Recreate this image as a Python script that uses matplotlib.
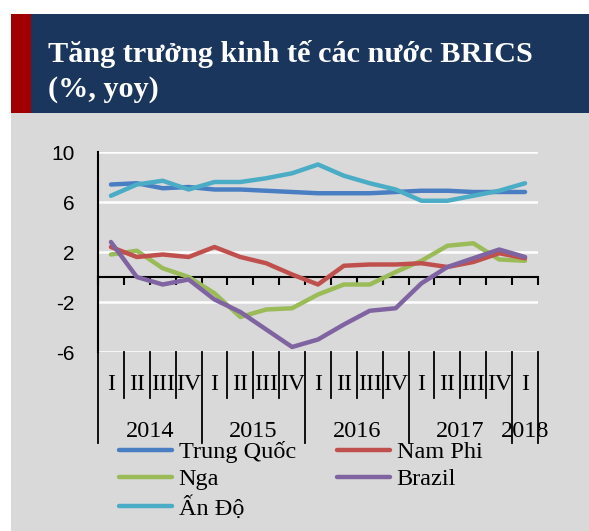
import numpy as np
import matplotlib.pyplot as plt
from matplotlib.patches import Rectangle
from matplotlib.lines import Line2D

# Du lieu tang truong GDP (%, yoy), 2014 Q1 - 2018 Q1
quarters = ["I", "II", "III", "IV"] * 4 + ["I"]
years = ["2014", "2015", "2016", "2017", "2018"]
year_sizes = [4, 4, 4, 4, 1]

trung_quoc = [7.4, 7.5, 7.1, 7.2, 7.0, 7.0, 6.9, 6.8, 6.7, 6.7, 6.7, 6.8, 6.9, 6.9, 6.8, 6.8, 6.8]
nam_phi = [2.4, 1.6, 1.8, 1.6, 2.4, 1.6, 1.1, 0.2, -0.6, 0.9, 1.0, 1.0, 1.1, 0.8, 1.2, 1.9, 1.5]
nga = [1.8, 2.1, 0.7, 0.0, -1.3, -3.2, -2.6, -2.5, -1.4, -0.6, -0.6, 0.4, 1.3, 2.5, 2.7, 1.4, 1.3]
brazil = [2.8, 0.0, -0.6, -0.2, -1.8, -2.8, -4.2, -5.6, -5.0, -3.8, -2.7, -2.5, -0.5, 0.8, 1.5, 2.2, 1.6]
an_do = [6.5, 7.4, 7.7, 7.0, 7.6, 7.6, 7.9, 8.3, 9.0, 8.1, 7.5, 7.0, 6.1, 6.1, 6.5, 6.9, 7.5]

col_trai = [("Trung Quốc", trung_quoc, "#4a7ec3"),
            ("Nga", nga, "#9bbb59"),
            ("Ấn Độ", an_do, "#4bacc6")]
col_phai = [("Nam Phi", nam_phi, "#c0504d"),
            ("Brazil", brazil, "#8064a2")]

W, H = 589, 531
fig = plt.figure(figsize=(W / 100, H / 100), dpi=100)
fig.patch.set_facecolor("white")

def fx(px):
    return px / W

def fy(py):
    return 1 - py / H

serif = ["Liberation Serif", "DejaVu Serif"]

# nen xam va khung tieu de
fig.add_artist(Rectangle((fx(11), 0), 1 - fx(11), fy(113), transform=fig.transFigure,
                         facecolor="#d9d9d9", edgecolor="none", zorder=0))
fig.add_artist(Rectangle((fx(11), fy(113)), 1 - fx(11), fy(14.5) - fy(113), transform=fig.transFigure,
                         facecolor="#1b365d", edgecolor="none", zorder=0))
fig.add_artist(Rectangle((fx(11), fy(113)), fx(31) - fx(11), fy(14.5) - fy(113), transform=fig.transFigure,
                         facecolor="#a00000", edgecolor="none", zorder=1))
fig.text(fx(48), fy(62), "Tăng trưởng kinh tế các nước BRICS", color="white",
         fontsize=21.8, fontweight="bold", family=serif, va="baseline", ha="left")
fig.text(fx(48), fy(97), "(%, yoy)", color="white",
         fontsize=21.8, fontweight="bold", family=serif, va="baseline", ha="left")

ax = fig.add_axes([fx(98), fy(352), fx(538) - fx(98), fy(152) - fy(352)])
ax.set_facecolor("none")
x = np.arange(len(quarters))

for name, vals, col in col_trai + col_phai:
    ax.plot(x, vals, color=col, lw=3.2, solid_capstyle="round", solid_joinstyle="round", zorder=3)

ax.set_xlim(-0.5, len(quarters) - 0.5)
ax.set_ylim(-6, 10)
ax.set_yticks([-6, -2, 2, 6, 10])
ax.set_yticklabels(["-6", "-2", "2", "6", "10"], family="Liberation Sans", fontsize=15)
ax.yaxis.grid(True, color="white", lw=1.8)
ax.set_axisbelow(True)
ax.tick_params(axis="y", length=0, pad=17)

for s in ["top", "right"]:
    ax.spines[s].set_visible(False)
ax.spines["left"].set_color("black")
ax.spines["left"].set_linewidth(1.5)
ax.spines["bottom"].set_position(("data", 0))
ax.spines["bottom"].set_linewidth(1.5)
ax.set_xticks(np.arange(len(quarters) + 1) - 0.5)
ax.set_xticklabels([])
ax.tick_params(axis="x", direction="out", length=6, width=1.5)

# nhan truc hoanh nhieu cap
trans = ax.get_xaxis_transform()
y_short = -(398 - 352) / 200
y_long = -(443 - 352) / 200
for i, q in enumerate(quarters):
    ax.text(x[i], -(384 - 352) / 200, q, transform=trans, ha="center", va="center",
            family=serif, fontsize=17)
bounds = np.cumsum([0] + year_sizes)
for i in range(len(quarters) + 1):
    ylow = y_long if i in bounds else y_short
    ax.plot([i - 0.5, i - 0.5], [0, ylow], transform=trans, color="black", lw=1.3, clip_on=False)
for yr, a, b in zip(years, bounds[:-1], bounds[1:]):
    ax.text((a + b - 1) / 2, -(431 - 352) / 200, yr, transform=trans, ha="center", va="center",
            family=serif, fontsize=17.5)

# chu thich: hai cot
for items, x0 in [(col_trai, 119), (col_phai, 337)]:
    handles = [Line2D([], [], color=c, lw=3.2, solid_capstyle="round") for _, _, c in items]
    labels = [n for n, _, _ in items]
    fig.legend(handles, labels, loc="upper left", bbox_to_anchor=(fx(x0), fy(441)),
               frameon=False, prop={"family": serif, "size": 17.5},
               handlelength=2.2, handletextpad=0.25, labelspacing=0.22,
               borderaxespad=0, borderpad=0)

fig.savefig("out.png", dpi=100, facecolor=fig.get_facecolor())
